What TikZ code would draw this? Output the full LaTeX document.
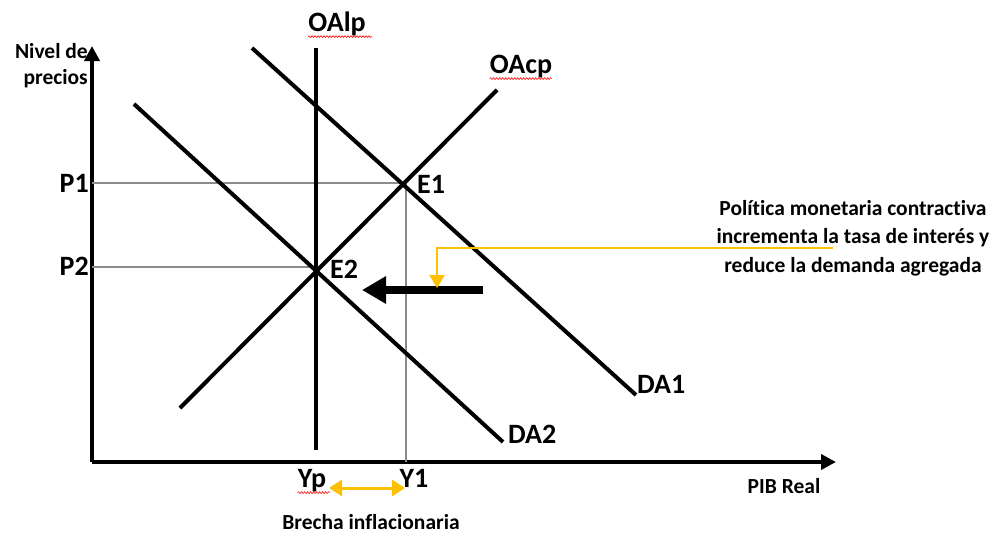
\documentclass[tikz,border=0pt]{standalone}
\usepackage{fontspec}
\setmainfont[Ligatures={NoCommon}]{Carlito}
\usetikzlibrary{arrows.meta,decorations.pathmorphing}
\definecolor{gold}{RGB}{255,192,0}
\definecolor{guidegray}{RGB}{140,140,140}
\begin{document}
\begin{tikzpicture}[x=1pt,y=-1pt,
  curve/.style={line width=4pt},
  axis/.style={line width=4pt,-{Triangle[length=15pt,width=15pt]}},
  guide/.style={guidegray,line width=1.6pt},
  lbl/.style={font=\fontsize{28}{30}\selectfont\bfseries,inner sep=0pt},
  small/.style={font=\fontsize{21.5}{24}\selectfont\bfseries,inner sep=0pt},
  squiggle/.style={red,line width=0.6pt,decorate,decoration={snake,amplitude=0.9pt,segment length=3pt}},
  goldline/.style={gold,line width=2.2pt}]
\useasboundingbox (0,0) rectangle (998,533);
% axes
\coordinate (O) at (92,462);
\coordinate (ytop) at (92,46);
\coordinate (xend) at (836,462);
\draw[axis] (O) -- (ytop);
\draw[axis] (O) -- (xend);
% equilibrium points
\coordinate (E1) at (404,183);
\coordinate (E2) at (316,267);
% guide lines
\coordinate (P1a) at (92,183);
\coordinate (P2a) at (92,267);
\coordinate (Y1a) at (406,462);
\draw[guide] (P1a) -- (E1);
\draw[guide] (P2a) -- (E2);
\draw[guide] (E1 -| Y1a) -- (Y1a);
% curves
\coordinate (oalpT) at (316,48);
\coordinate (oalpB) at (316,450);
\coordinate (oacpA) at (180,408);
\coordinate (oacpB) at (497,90);
\coordinate (da1A) at (252,48);
\coordinate (da1B) at (636,395);
\coordinate (da2A) at (134,104);
\coordinate (da2B) at (503,442);
\draw[curve] (oalpT) -- (oalpB);
\draw[curve] (oacpA) -- (oacpB);
\draw[curve] (da1A) -- (da1B);
\draw[curve] (da2A) -- (da2B);
% labels
\node[lbl,anchor=base] (tOAlp) at (337,31) {OAlp};
\node[lbl,anchor=base] (tOAcp) at (521,73) {OAcp};
\node[lbl,anchor=base east] (tP1) at (89,192) {P1};
\node[lbl,anchor=base east] (tP2) at (89,275) {P2};
\node[lbl,anchor=base west] (tE1) at (417,193) {E1};
\node[lbl,anchor=base west] (tE2) at (330,278) {E2};
\node[lbl,anchor=base west] (tDA1) at (637,393) {DA1};
\node[lbl,anchor=base west] (tDA2) at (508,443) {DA2};
\node[lbl,anchor=base] (tYp) at (312,487) {Yp};
\node[lbl,anchor=base] (tY1) at (414,487) {Y1};
\node[small,anchor=base] (tPIB) at (784,493) {PIB Real};
\node[small,anchor=base] (tBrecha) at (371,529) {Brecha inflacionaria};
\node[small,anchor=base east,align=right] (tNivel) at (88,84) {Nivel de\\[2pt]precios};
\node[small,align=center,font=\fontsize{21.5}{28.5}\selectfont\bfseries] (tPol) at (853,238) {Política monetaria contractiva\\incrementa la tasa de interés y\\reduce la demanda agregada};
% spell-check underlines
\draw[squiggle] (tOAlp.south west) ++(0,1) -- ++(64,0);
\draw[squiggle] (tOAcp.south west) ++(0,1) -- ++(62,0);
\draw[squiggle] (tYp.south west) ++(0,1) -- ++(32,0);
% shift arrow
\coordinate (sA) at (483,290);
\coordinate (sB) at (362,290);
\draw[line width=8pt,-{Triangle[length=24pt,width=26pt]}] (sA) -- (sB);
% gold annotation arrow
\coordinate (gA) at (833,248);
\coordinate (gC) at (437,248);
\coordinate (gB) at (437,288);
\draw[goldline,-{Triangle[length=13pt,width=15pt]}] (gA) -- (gC) -- (gB);
% gap double arrow
\coordinate (gapL) at (329,488);
\coordinate (gapR) at (405,488);
\draw[goldline,line width=3pt,{Triangle[length=13pt,width=16pt]}-{Triangle[length=13pt,width=16pt]}] (gapL) -- (gapR);
\end{tikzpicture}
\end{document}
